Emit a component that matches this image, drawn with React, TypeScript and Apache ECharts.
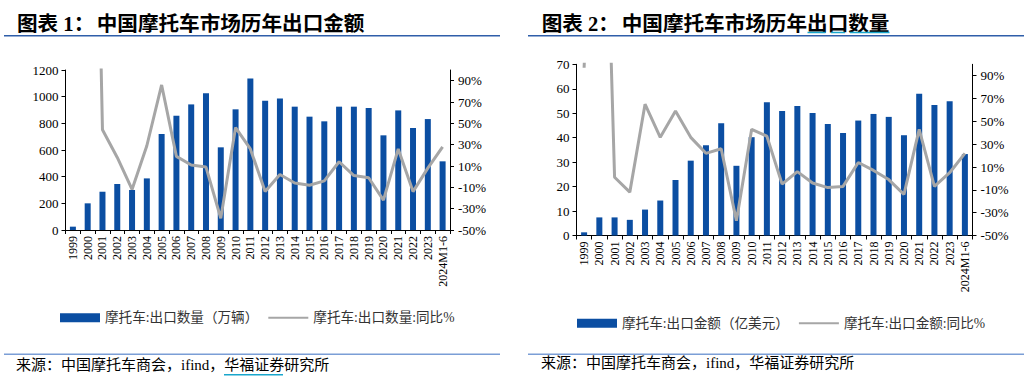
import React, { useEffect, useRef } from "react";
import * as echarts from "echarts";

const categories = ["1999", "2000", "2001", "2002", "2003", "2004", "2005", "2006", "2007", "2008", "2009", "2010", "2011", "2012", "2013", "2014", "2015", "2016", "2017", "2018", "2019", "2020", "2021", "2022", "2023", "2024M1-6"];

// Chart 1: export quantity (10k units) and YoY %
const qtyValues = [25, 200, 287, 345, 300, 387, 720, 857, 942, 1025, 620, 905, 1137, 970, 987, 925, 850, 815, 925, 925, 915, 710, 897, 765, 832, 515];
const qtyYoy = [null, 700, 44, 18, -12, 29, 86, 19, 11, 9, -39, 46, 26, -14, 2, -6, -8, -4, 14, 1, -1, -22, 26, -14, 8, 28];

// Chart 2: export value (100M USD) and YoY %
const valValues = [1.3, 7.4, 7.4, 6.4, 10.6, 14.3, 22.7, 30.6, 36.9, 45.9, 28.5, 40.2, 54.5, 50.9, 53.0, 50.1, 45.6, 41.9, 47.0, 49.7, 48.5, 41.0, 58.0, 53.4, 54.9, 33.3];
const valYoy = [97, 460, 1, -12, 65, 36, 59, 36, 22, 26, -37, 43, 37, -5, 6, -4, -8, -7, 14, 7, -1, -14, 43, -7, 5, 22];

const leftTicks = { min: 0, max: 1200, interval: 200 };
const rightTicks = { min: 0, max: 70, interval: 10 };
const pctTicks = { min: -50, max: 100, interval: 20 };

const title1Prefix = "图表 1：";
const title1Main = "中国摩托车市场历年出口金额";
const title2Prefix = "图表 2：";
const title2Main = "中国摩托车市场历年出口数量";
const legend1Bar = "摩托车:出口数量（万辆）";
const legend1Line = "摩托车:出口数量:同比%";
const legend2Bar = "摩托车:出口金额（亿美元）";
const legend2Line = "摩托车:出口金额:同比%";
const sourceText = "来源：中国摩托车商会，ifind，华福证券研究所";

const BAR = "#0b4ea2";
const GRAY = "#a6a6a6";
const SERIF = "'Liberation Serif', 'Noto Sans CJK SC'";
const CJK = "'Liberation Serif', 'Noto Sans CJK SC'";

function xAxis(gridIndex: number) {
  return {
    type: "category",
    gridIndex,
    data: categories,
    boundaryGap: true,
    axisLine: { lineStyle: { color: "#000", width: 1 } },
    axisTick: { show: true, length: 4, lineStyle: { color: "#000" } },
    axisLabel: { rotate: 90, interval: 0, fontSize: 12, fontFamily: SERIF, color: "#000", margin: 6 },
    splitLine: { show: false },
  };
}

function yAxisLeft(gridIndex: number, t: { min: number; max: number; interval: number }) {
  return {
    type: "value",
    gridIndex,
    position: "left",
    min: t.min,
    max: t.max,
    interval: t.interval,
    axisLine: { show: true, lineStyle: { color: "#000", width: 1 } },
    axisTick: { show: true, length: 4, lineStyle: { color: "#000" } },
    axisLabel: { fontSize: 13, fontFamily: SERIF, color: "#000", margin: 7, formatter: (v: number) => String(v) },
    splitLine: { show: false },
  };
}

function yAxisRight(gridIndex: number) {
  return {
    type: "value",
    gridIndex,
    position: "right",
    min: pctTicks.min,
    max: pctTicks.max,
    interval: pctTicks.interval,
    axisLine: { show: true, lineStyle: { color: "#000", width: 1 } },
    axisTick: { show: true, length: 4, lineStyle: { color: "#000" } },
    axisLabel: { fontSize: 13, fontFamily: SERIF, color: "#000", margin: 8, formatter: "{value}%", showMaxLabel: false },
    splitLine: { show: false },
  };
}

function legend(left: number, top: number, barName: string, lineName: string) {
  return {
    left,
    top,
    padding: 0,
    itemWidth: 40,
    itemHeight: 9,
    itemGap: 9,
    selectedMode: false,
    textStyle: { fontSize: 13.6, fontFamily: CJK, color: "#333" },
    data: [
      { name: barName, icon: "rect" },
      { name: lineName, itemStyle: { opacity: 0, color: "transparent", borderWidth: 0 } },
    ],
  };
}

function text(x: number, y: number, t: string, font: any) {
  return { type: "text", x, y, style: { text: t, fill: "#000", verticalAlign: "middle", align: "left", ...font } };
}

function hline(x1: number, x2: number, y: number, stroke: string, w: number) {
  return { type: "line", shape: { x1, y1: y, x2, y2: y }, style: { stroke, lineWidth: w } };
}

export default function App() {
  const ref = useRef<HTMLDivElement>(null);
  useEffect(() => {
    if (!ref.current) return;
    const chart = echarts.init(ref.current, undefined, { renderer: "svg" });
    const titleFont = { fontSize: 20.6, fontWeight: "bold", fontFamily: CJK };
    const srcFont = { fontSize: 15, fontFamily: CJK };
    chart.setOption({
      animation: false,
      backgroundColor: "#fff",
      grid: [
        { left: 65.5, right: 1029 - 450, top: 70, bottom: 388 - 230, containLabel: false },
        { left: 576.5, right: 1029 - 972.5, top: 64.3, bottom: 388 - 235.5, containLabel: false },
      ],
      xAxis: [xAxis(0), xAxis(1)],
      yAxis: [yAxisLeft(0, leftTicks), yAxisRight(0), yAxisLeft(1, rightTicks), yAxisRight(1)],
      legend: [legend(60, 311, legend1Bar, legend1Line), legend(577, 316.5, legend2Bar, legend2Line)],
      series: [
        { name: legend1Bar, type: "bar", xAxisIndex: 0, yAxisIndex: 0, data: qtyValues, barWidth: 6, itemStyle: { color: BAR } },
        { name: legend1Line, type: "line", xAxisIndex: 0, yAxisIndex: 1, data: qtyYoy, symbol: "none", lineStyle: { color: GRAY, width: 3 }, itemStyle: { color: GRAY }, clip: true },
        { name: legend2Bar, type: "bar", xAxisIndex: 1, yAxisIndex: 2, data: valValues, barWidth: 6, itemStyle: { color: BAR } },
        { name: legend2Line, type: "line", xAxisIndex: 1, yAxisIndex: 3, data: valYoy, symbol: "none", lineStyle: { color: GRAY, width: 3 }, itemStyle: { color: GRAY }, clip: true },
      ],
      graphic: [
        text(17, 23.5, title1Prefix, titleFont),
        text(96.7, 23.5, title1Main, titleFont),
        hline(4, 500, 35.7, "#2f5ea9", 1.5),
        text(541.7, 23.5, title2Prefix, titleFont),
        text(621.7, 23.5, title2Main, titleFont),
        hline(528, 1024, 35.7, "#2f5ea9", 1.5),
        hline(807.5, 825.5, 32.5, "#19a6cc", 1.5),
        hline(831, 845, 32.5, "#19a6cc", 1.5),
        hline(850, 889.5, 32.5, "#19a6cc", 1.5),
        hline(4, 500, 354.3, "#7b9ed6", 1.5),
        hline(528, 1024, 354.3, "#7b9ed6", 1.5),
        text(16, 365, sourceText, srcFont),
        text(541, 363, sourceText, srcFont),
        hline(224, 283, 374.7, "#19a6cc", 1.5),
      ],
    });
    return () => chart.dispose();
  }, []);
  return <div ref={ref} style={{ position: "absolute", left: 0, top: 0, width: 1029, height: 388 }} />;
}
